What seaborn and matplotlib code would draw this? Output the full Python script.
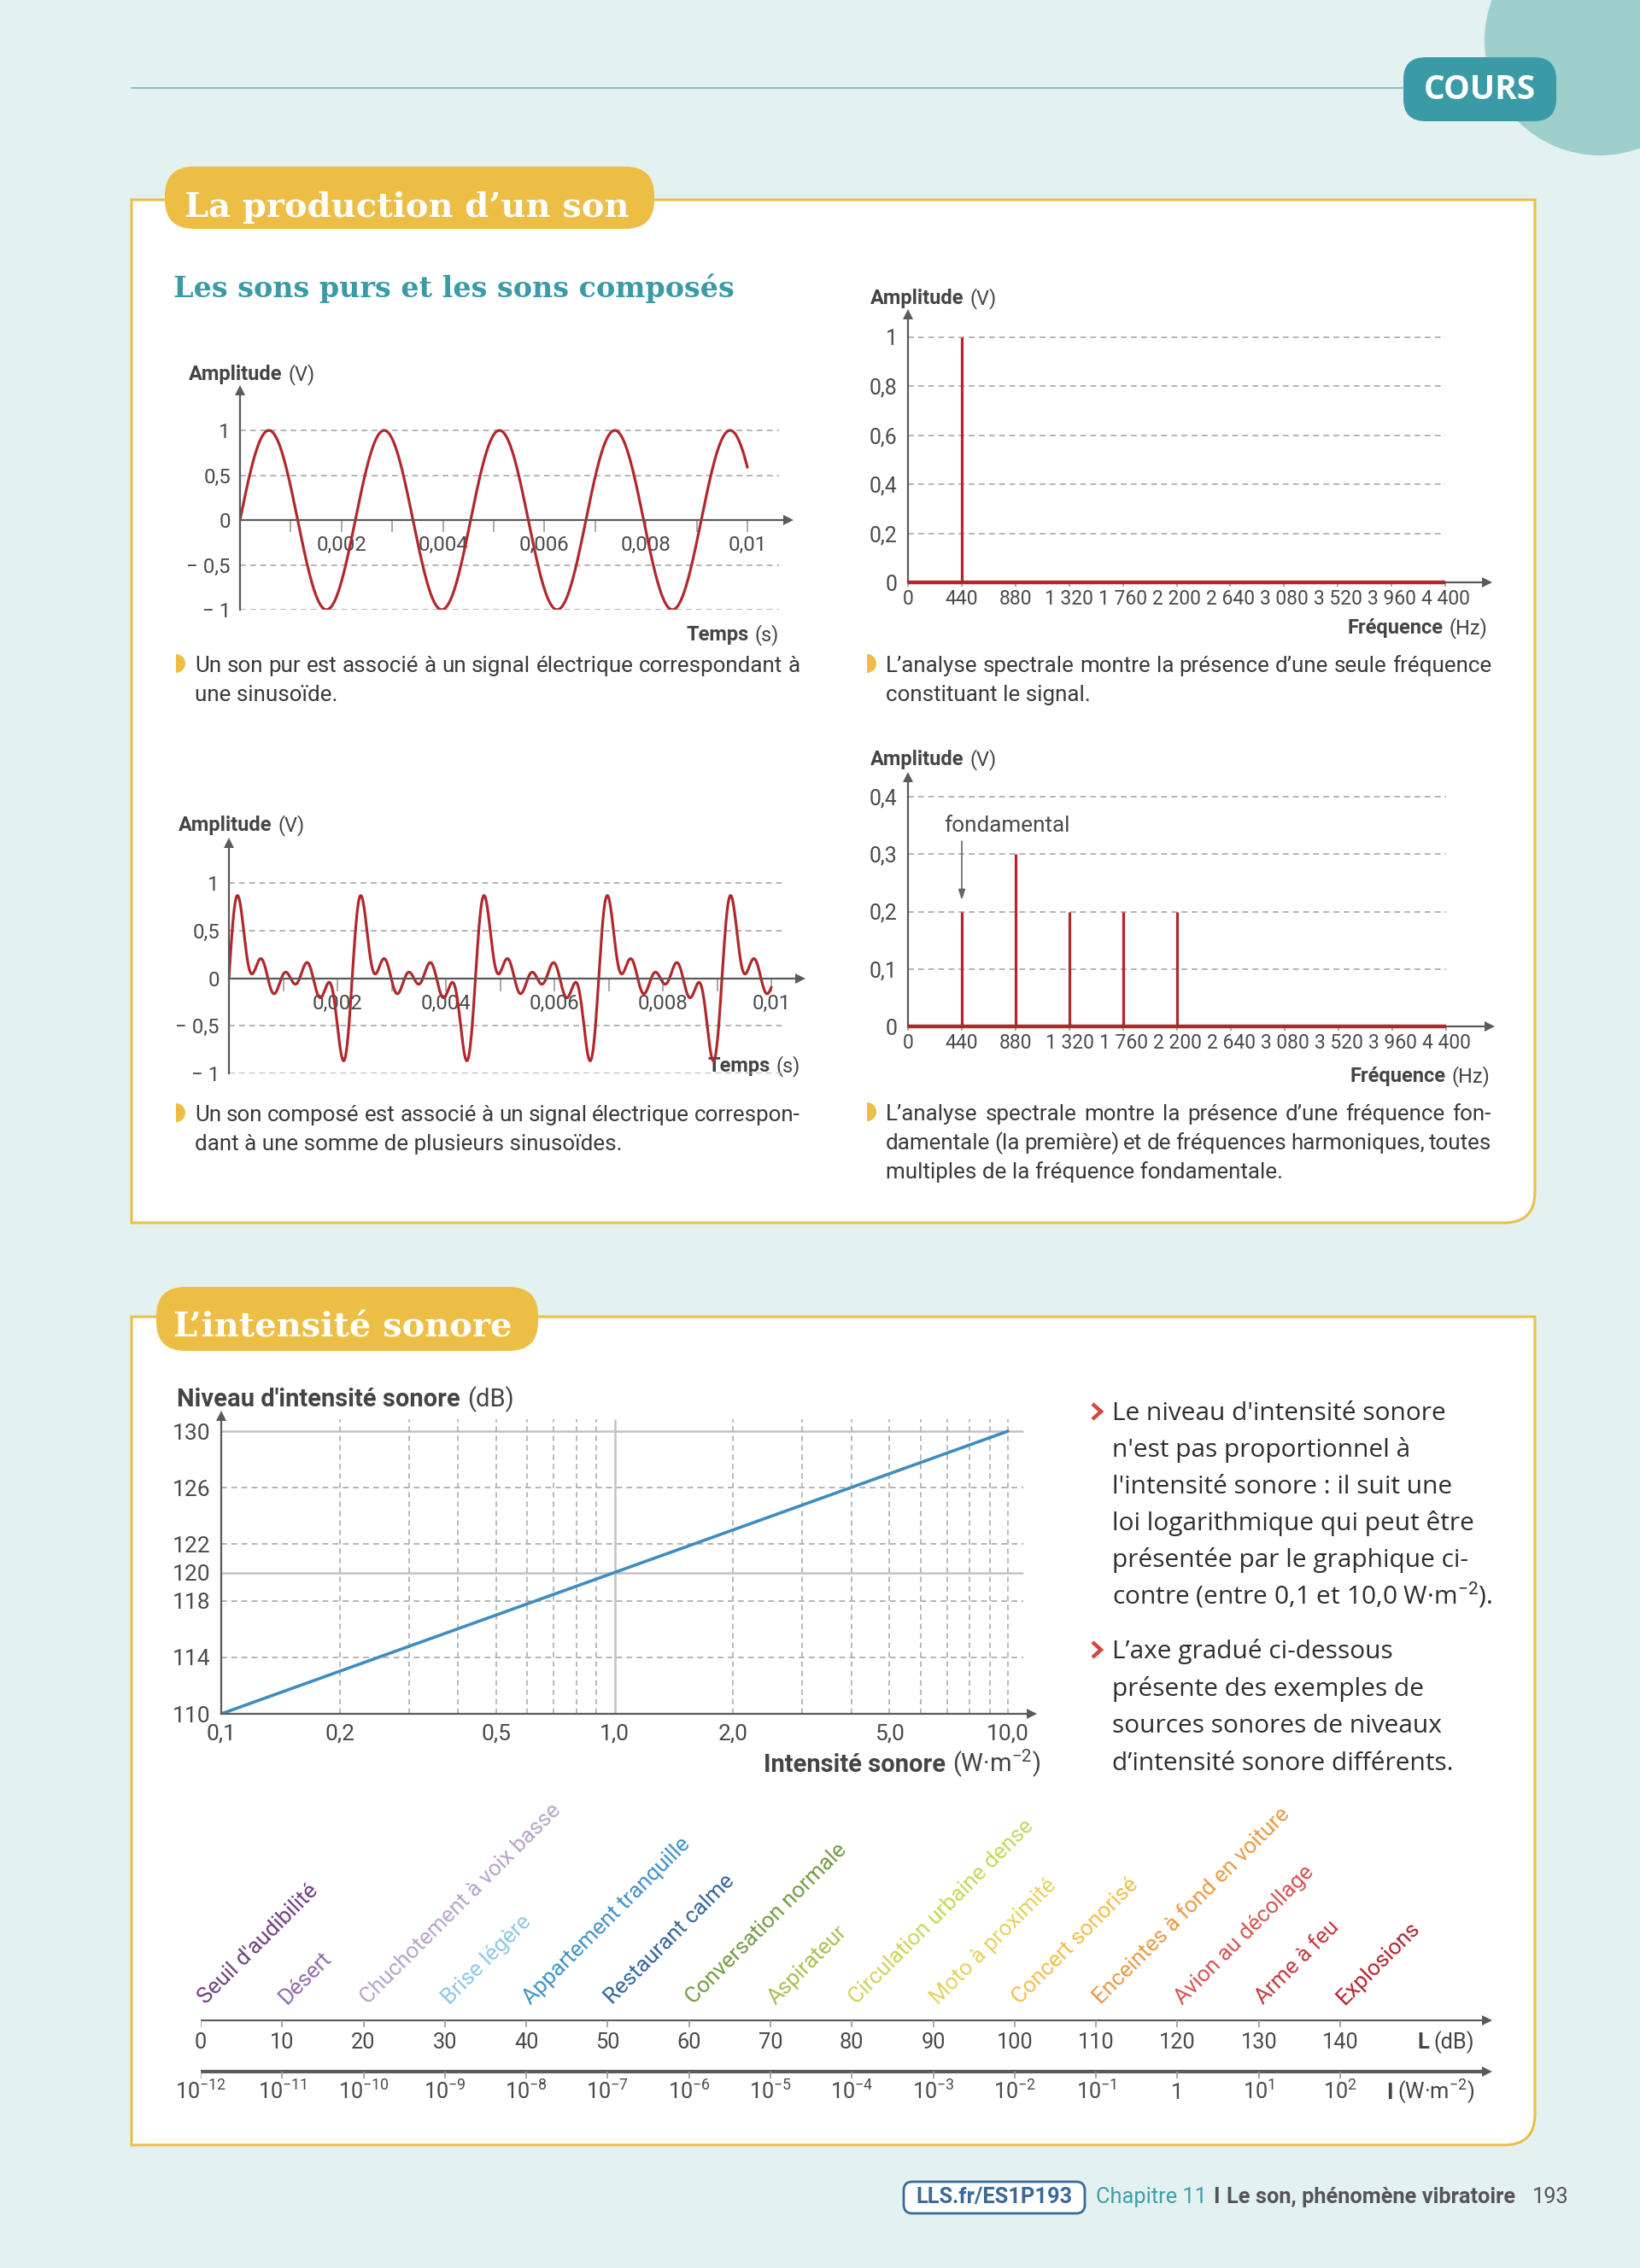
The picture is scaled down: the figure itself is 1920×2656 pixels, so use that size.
import numpy as np
import matplotlib
matplotlib.use('Agg')
import matplotlib.pyplot as plt
import seaborn as sns
from matplotlib import font_manager
from matplotlib.patches import FancyBboxPatch, Circle, Wedge, PathPatch
from matplotlib.path import Path
from matplotlib.ticker import NullLocator

sns.set_theme(style='white')

names = {f.name for f in font_manager.fontManager.ttflist}
SANS = 'Roboto' if 'Roboto' in names else 'DejaVu Sans'
HAS_NARROW = 'Liberation Sans Narrow' in names
NARROW = 'Liberation Sans Narrow' if HAS_NARROW else SANS
PARA = 'Open Sans' if 'Open Sans' in names else SANS
SERIF = 'DejaVu Serif Condensed' if 'DejaVu Serif Condensed' in names else 'DejaVu Serif'
FAM = [SANS, 'DejaVu Sans']
plt.rcParams['font.family'] = FAM
plt.rcParams['mathtext.fontset'] = 'custom'
plt.rcParams['mathtext.rm'] = SANS
plt.rcParams['mathtext.it'] = SANS + ':italic'
plt.rcParams['mathtext.bf'] = SANS + ':bold'

W, H = 1920, 2656

# ---------------- data ----------------
time_s = np.linspace(0, 0.01, 1600)
pure_freq = [440]
pure_amp = [1.0]
comp_freq = [440, 880, 1320, 1760, 2200]
comp_amp = [0.2, 0.3, 0.2, 0.2, 0.2]

wave_ticks = [0.002, 0.004, 0.006, 0.008, 0.01]
wave_labels = ['0,002', '0,004', '0,006', '0,008', '0,01']
wave_minor = [0.001, 0.003, 0.005, 0.007, 0.009]
amp_ticks = [1, 0.5, 0, -0.5, -1]
amp_labels = ['1', '0,5', '0', '\u2212 0,5', '\u2212 1']
amp_grid = [1, 0.5, -0.5, -1]

freq_ticks = [0, 440, 880, 1320, 1760, 2200, 2640, 3080, 3520, 3960, 4400]
freq_labels = ['0', '440', '880', '1 320', '1 760', '2 200',
               '2 640', '3 080', '3 520', '3 960', '4 400']
spec1_ticks = [0, 0.2, 0.4, 0.6, 0.8, 1]
spec1_labels = ['0', '0,2', '0,4', '0,6', '0,8', '1']
spec2_ticks = [0, 0.1, 0.2, 0.3, 0.4]
spec2_labels = ['0', '0,1', '0,2', '0,3', '0,4']

intensity = [0.1, 1.0, 10.0]
level_db = [110, 120, 130]
int_ticks = [0.1, 0.2, 0.5, 1.0, 2.0, 5.0, 10.0]
int_labels = ['0,1', '0,2', '0,5', '1,0', '2,0', '5,0', '10,0']
int_dashed = [0.2, 0.3, 0.4, 0.5, 0.6, 0.7, 0.8, 0.9, 2, 3, 4, 5, 6, 7, 8, 9, 10]
int_solid = [1.0]
level_ticks = [110, 114, 118, 120, 122, 126, 130]
level_solid = [120, 130]
level_dashed = [114, 118, 122, 126]

sources = ["Seuil d'audibilité", 'Désert', 'Chuchotement à voix basse', 'Brise légère',
           'Appartement tranquille', 'Restaurant calme', 'Conversation normale',
           'Aspirateur', 'Circulation urbaine dense', 'Moto à proximité',
           'Concert sonorisé', 'Enceintes à fond en voiture', 'Avion au décollage',
           'Arme à feu', 'Explosions']
source_db = [0, 10, 20, 30, 40, 50, 60, 70, 80, 90, 100, 110, 120, 130, 140]
source_colors = ['#6B3F7C', '#8F6BA3', '#B9A2CA', '#8EC7E2', '#3E90C5', '#2F6598',
                 '#6F9B3E', '#A9BF4B', '#C8D657', '#E3D35E', '#EFBF4B', '#E89A42',
                 '#D3524F', '#C2363D', '#B0212E']
scale_intensity = ['$10^{-12}$', '$10^{-11}$', '$10^{-10}$', '$10^{-9}$', '$10^{-8}$',
                   '$10^{-7}$', '$10^{-6}$', '$10^{-5}$', '$10^{-4}$', '$10^{-3}$',
                   '$10^{-2}$', '$10^{-1}$', '1', '$10^{1}$', '$10^{2}$']

pure_sig = sum(a * np.sin(2 * np.pi * f * time_s) for f, a in zip(pure_freq, pure_amp))
comp_sig = sum(a * np.sin(2 * np.pi * f * time_s) for f, a in zip(comp_freq, comp_amp))

# ---------------- colours ----------------
RED = '#B0282C'
AXIS = '#5a5a5a'
GRID = '#b4b4b4'
TXT = '#3a3a3a'
TICK = '#4a4a4a'
YEL = '#EDBE45'
TEAL = '#3A9BA6'
BG = '#E4F1F1'
BLUE = '#3D8DC0'
DASH = (0, (3.5, 2.6))

fig = plt.figure(figsize=(W / 100, H / 100), dpi=100)
fig.patch.set_facecolor(BG)
bg = fig.add_axes([0, 0, 1, 1])
bg.set_xlim(0, W)
bg.set_ylim(H, 0)
bg.axis('off')
renderer = fig.canvas.get_renderer()


def text_w(s, size, weight='normal', family=None):
    t = bg.text(0, 0, s, fontsize=size, fontweight=weight, family=family or FAM)
    w = t.get_window_extent(renderer).width
    t.remove()
    return w


def fit(s, target, weight='normal', family=None):
    return 10 * target / text_w(s, 10, weight, family)


def rich(x, y, parts, ha='left', gap=0.28):
    # parts: (text, size, weight, color)
    widths = [text_w(s, sz, wt) for s, sz, wt, c in parts]
    gaps = [gap * parts[i][1] * 100 / 72 for i in range(len(parts) - 1)] + [0]
    total = sum(widths) + sum(gaps)
    if ha == 'right':
        x = x - total
    for (s, sz, wt, c), w, g in zip(parts, widths, gaps):
        bg.text(x, y, s, fontsize=sz, fontweight=wt, color=c, va='baseline', ha='left')
        x += w + g


def justify(x, y, line, width, size, last=False, color=TXT):
    words = line.split(' ')
    if last or len(words) == 1:
        bg.text(x, y, line, fontsize=size, color=color, va='baseline')
        return
    ws = [text_w(w, size) for w in words]
    gap = (width - sum(ws)) / (len(words) - 1)
    for w, wd in zip(words, ws):
        bg.text(x, y, w, fontsize=size, color=color, va='baseline')
        x += wd + gap


def panel(L, T, R, B, r=36):
    verts = [(L, T), (R, T), (R, B - r), (R, B), (R - r, B), (L, B), (L, T)]
    codes = [Path.MOVETO, Path.LINETO, Path.LINETO, Path.CURVE3, Path.CURVE3,
             Path.LINETO, Path.CLOSEPOLY]
    bg.add_patch(PathPatch(Path(verts, codes), facecolor='white', edgecolor=YEL, lw=2.2))


def banner(L, T, R, B, fc, r=34):
    bg.add_patch(FancyBboxPatch((L, T), R - L, B - T,
                                boxstyle=f'round,pad=0,rounding_size={r}',
                                facecolor=fc, edgecolor='none'))


def chart(L, T, R, B, xlim, ylim, xlog=False):
    ax = fig.add_axes([L / W, 1 - B / H, (R - L) / W, (B - T) / H])
    ax.set_facecolor('none')
    if xlog:
        ax.set_xscale('log')
        ax.xaxis.set_minor_locator(NullLocator())
    ax.set_xlim(*xlim)
    ax.set_ylim(*ylim)
    ax.grid(False)
    for s in ['top', 'right']:
        ax.spines[s].set_visible(False)
    for s in ['left', 'bottom']:
        ax.spines[s].set_color(AXIS)
        ax.spines[s].set_linewidth(1.6)
    ax.plot([0], [1], marker='^', ms=8, color=AXIS, mew=0, transform=ax.transAxes, clip_on=False)
    return ax


def x_arrow(ax, yval):
    ax.plot([1], [yval], marker='>', ms=8, color=AXIS, mew=0,
            transform=ax.get_yaxis_transform(), clip_on=False)


def bullet(x, yc):
    bg.add_patch(Wedge((x, yc), 11, -90, 90, facecolor=YEL, edgecolor='none'))


# ---------------- page decoration ----------------
bg.add_patch(Circle((1873, 47), 135, facecolor='#9FCFCC', edgecolor='none'))
bg.plot([154, 1643], [103, 103], color='#86BDBF', lw=1.4)
banner(1643, 67, 1822, 142, TEAL, r=26)
bg.text(1732, 106, 'COURS', color='white', fontsize=fit('COURS', 130, 'bold', [PARA]),
        fontweight='bold', family=[PARA], ha='center', va='center')

panel(154, 234, 1797, 1432)
panel(154, 1542, 1797, 2512)

title_size = fit('La production d\u2019un son', 522, 'bold', [SERIF])
banner(193, 195, 766, 268, YEL)
bg.text(216, 254, 'La production d\u2019un son', color='white', fontsize=title_size,
        fontweight='bold', family=[SERIF], va='baseline')
banner(183, 1507, 630, 1582, YEL)
bg.text(203, 1566, 'L\u2019intensité sonore', color='white', fontsize=title_size,
        fontweight='bold', family=[SERIF], va='baseline')
bg.text(203, 348, 'Les sons purs et les sons composés', color=TEAL,
        fontsize=fit('Les sons purs et les sons composés', 660, 'bold', [SERIF]),
        fontweight='bold', family=[SERIF], va='baseline')

AX_SIZE = fit('Amplitude', 110, 'bold')
TICK_SIZE = 1.06 * fit('0,002', 55)
FREQ_FAM = [NARROW, 'DejaVu Sans']
FREQ_SIZE = 17.5 if HAS_NARROW else 16.5

# ---------------- chart 1 : pure sound ----------------
L, T, R, B = 281, 457, 923, 714
px_s, px_v, y1 = 59400, 105, 504
ax1 = chart(L, T, R, B, (0, (R - L) / px_s), (-1, 1 + (y1 - T) / px_v))
ax1.spines['bottom'].set_position(('data', 0))
x_arrow(ax1, 0)
ax1.hlines(amp_grid, 0, (912 - L) / px_s, colors=GRID, linestyles=DASH, lw=1.4)
sns.lineplot(x=time_s, y=pure_sig, ax=ax1, color=RED, linewidth=2.3, sort=False, errorbar=None)
ax1.set_xticks(wave_ticks, wave_labels)
ax1.set_xticks(wave_minor, minor=True)
ax1.tick_params(axis='x', which='both', bottom=True, direction='out', length=10, width=1.2,
                color='#9a9a9a', pad=3, labelsize=TICK_SIZE, labelcolor=TICK)
ax1.set_yticks(amp_ticks, amp_labels)
ax1.tick_params(axis='y', left=False, length=0, pad=8, labelsize=TICK_SIZE, labelcolor=TICK)
rich(221, 445, [('Amplitude', AX_SIZE, 'bold', '#444'), ('(V)', AX_SIZE, 'normal', '#444')])
rich(912, 750, [('Temps', AX_SIZE, 'bold', '#444'), ('(s)', AX_SIZE, 'normal', '#444')], ha='right')

# ---------------- chart 2 : composite sound ----------------
L, T, R, B = 268, 987, 937, 1257
px_s, px_v, y1 = 63500, 111.5, 1034
ax2 = chart(L, T, R, B, (0, (R - L) / px_s), (-1, 1 + (y1 - T) / px_v))
ax2.spines['bottom'].set_position(('data', 0))
x_arrow(ax2, 0)
ax2.hlines(amp_grid, 0, (918 - L) / px_s, colors=GRID, linestyles=DASH, lw=1.4)
sns.lineplot(x=time_s, y=comp_sig, ax=ax2, color=RED, linewidth=2.3, sort=False, errorbar=None)
ax2.set_xticks(wave_ticks, wave_labels)
ax2.set_xticks(wave_minor, minor=True)
ax2.tick_params(axis='x', which='both', bottom=True, direction='out', length=11, width=1.2,
                color='#9a9a9a', pad=2.5, labelsize=TICK_SIZE, labelcolor=TICK)
ax2.set_yticks(amp_ticks, amp_labels)
ax2.tick_params(axis='y', left=False, length=0, pad=8, labelsize=TICK_SIZE, labelcolor=TICK)
rich(209, 973, [('Amplitude', AX_SIZE, 'bold', '#444'), ('(V)', AX_SIZE, 'normal', '#444')])
rich(937, 1255, [('Temps', AX_SIZE, 'bold', '#444'), ('(s)', AX_SIZE, 'normal', '#444')], ha='right')

# ---------------- chart 3 : spectrum of pure sound ----------------
L, T, R, B = 1063, 368, 1741, 682
px_f, px_v = 0.142955, 287
ax3 = chart(L, T, R, B, (0, (R - L) / px_f), (0, (B - T) / px_v))
x_arrow(ax3, 0)
ax3.hlines(spec1_ticks[1:], 0, 4400, colors=GRID, linestyles=DASH, lw=1.4)
ax3.vlines(pure_freq, 0, pure_amp, colors=RED, lw=2.3)
ax3.hlines(0, 0, 4400, colors=RED, lw=3.2, clip_on=False, zorder=5)
ax3.set_xticks(freq_ticks, freq_labels)
ax3.tick_params(axis='x', bottom=True, direction='out', length=3.6, width=1.2, color='#9a9a9a',
                pad=2.5, labelsize=FREQ_SIZE, labelcolor=TICK)
ax3.set_yticks(spec1_ticks, spec1_labels)
ax3.tick_params(axis='y', left=False, length=0, pad=9, labelsize=TICK_SIZE * 1.04, labelcolor=TICK)
rich(1019, 356, [('Amplitude', AX_SIZE, 'bold', '#444'), ('(V)', AX_SIZE, 'normal', '#444')])
rich(1741, 742, [('Fréquence', AX_SIZE, 'bold', '#444'), ('(Hz)', AX_SIZE, 'normal', '#444')], ha='right')

# ---------------- chart 4 : spectrum of composite sound ----------------
L, T, R, B = 1063, 910, 1744, 1202
px_f, px_v = 0.1432, 672.5
ax4 = chart(L, T, R, B, (0, (R - L) / px_f), (0, (B - T) / px_v))
x_arrow(ax4, 0)
ax4.hlines(spec2_ticks[1:], 0, 4400, colors=GRID, linestyles=DASH, lw=1.4)
ax4.vlines(comp_freq, 0, comp_amp, colors=RED, lw=2.3)
ax4.hlines(0, 0, 4400, colors=RED, lw=3.2, clip_on=False, zorder=5)
ax4.set_xticks(freq_ticks, freq_labels)
ax4.tick_params(axis='x', bottom=True, direction='out', length=3.6, width=1.2, color='#9a9a9a',
                pad=2.5, labelsize=FREQ_SIZE, labelcolor=TICK)
ax4.set_yticks(spec2_ticks, spec2_labels)
ax4.tick_params(axis='y', left=False, length=0, pad=9, labelsize=TICK_SIZE * 1.04, labelcolor=TICK)
ax4.annotate('', xy=(comp_freq[0], comp_amp[0] + 0.02), xytext=(comp_freq[0], (B - 985) / px_v),
             arrowprops=dict(arrowstyle='-|>,head_length=0.6,head_width=0.2', color='#666',
                             lw=1.2, shrinkA=0, shrinkB=0))
ax4.text((1105 - L) / px_f, (B - 967) / px_v, 'fondamental', ha='left', va='center',
         fontsize=fit('fondamental', 148), color=TICK)
rich(1019, 896, [('Amplitude', AX_SIZE, 'bold', '#444'), ('(V)', AX_SIZE, 'normal', '#444')])
rich(1744, 1267, [('Fréquence', AX_SIZE, 'bold', '#444'), ('(Hz)', AX_SIZE, 'normal', '#444')], ha='right')

for ax in (ax3, ax4):
    for lab in ax.get_xticklabels():
        lab.set_family(FREQ_FAM)

# ---------------- captions ----------------
CAP = fit('Un son pur est associé à un signal électrique correspondant à', 711)
captions = [
    (228, [787, 821], ['Un son pur est associé à un signal électrique correspondant à',
                       'une sinusoïde.']),
    (228, [1313, 1347], ['Un son composé est associé à un signal électrique correspon-',
                         'dant à une somme de plusieurs sinusoïdes.']),
    (1037, [787, 821], ['L\u2019analyse spectrale montre la présence d\u2019une seule fréquence',
                        'constituant le signal.']),
    (1037, [1312, 1346, 1380], ['L\u2019analyse spectrale montre la présence d\u2019une fréquence fon-',
                                'damentale (la première) et de fréquences harmoniques, toutes',
                                'multiples de la fréquence fondamentale.']),
]
for x0, ys, lines in captions:
    bullet(x0 - 22, ys[0] - 10)
    for i, (yy, ln) in enumerate(zip(ys, lines)):
        justify(x0, yy, ln, 709, CAP, last=(i == len(lines) - 1))

# ---------------- chart 5 : level vs intensity ----------------
L, T, R, B = 259, 1658, 1208, 2007
px_dec, px_db = 460.5, 16.55
ax5 = chart(L, T, R, B, (0.1, 10 ** (-1 + (R - L) / px_dec)), (110, 110 + (B - T) / px_db), xlog=True)
x_arrow(ax5, 110)
x_grid_end = 10 ** (-1 + (1198 - L) / px_dec)
y_grid_top = 110 + (B - 1662) / px_db
ax5.hlines(level_dashed, 0.1, x_grid_end, colors=GRID, linestyles=DASH, lw=1.4)
ax5.hlines(level_solid, 0.1, x_grid_end, colors='#c2c2c2', lw=1.8)
ax5.vlines(int_dashed, 110, y_grid_top, colors=GRID, linestyles=DASH, lw=1.3)
ax5.vlines(int_solid, 110, y_grid_top, colors='#c2c2c2', lw=1.8)
sns.lineplot(x=intensity, y=level_db, ax=ax5, color=BLUE, linewidth=2.6, errorbar=None)
ax5.set_xticks(int_ticks, int_labels)
ax5.tick_params(axis='x', bottom=True, length=0, pad=8, labelsize=1.1 * TICK_SIZE, labelcolor=TICK)
ax5.set_yticks(level_ticks, [str(v) for v in level_ticks])
ax5.tick_params(axis='y', left=False, length=0, pad=9, labelsize=1.1 * TICK_SIZE, labelcolor=TICK)
N_SIZE = fit("Niveau d'intensité sonore", 331, 'bold')
rich(207, 1647, [("Niveau d'intensité sonore", N_SIZE, 'bold', '#444'), ('(dB)', N_SIZE, 'normal', '#444')])
rich(1218, 2075, [('Intensité sonore', N_SIZE, 'bold', '#444'),
                  ('(W\u00b7m$^{-2}$)', N_SIZE, 'normal', '#444')], ha='right')

# ---------------- right paragraph ----------------
para = ["Le niveau d'intensité sonore", "n'est pas proportionnel à",
        "l'intensité sonore : il suit une", 'loi logarithmique qui peut être',
        'présentée par le graphique ci-', 'contre (entre 0,1 et 10,0 W\u00b7m$^{-2}$).',
        'L\u2019axe gradué ci-dessous', 'présente des exemples de',
        'sources sonores de niveaux', 'd\u2019intensité sonore différents.']
para_y = [1663, 1706, 1749, 1792, 1835, 1878, 1942, 1986, 2029, 2073]
P_SIZE = fit('loi logarithmique qui peut être', 425, family=[PARA])
for ln, yy in zip(para, para_y):
    bg.text(1302, yy, ln, fontsize=P_SIZE, family=[PARA, 'DejaVu Sans'], color='#2e2e2e', va='baseline')
for yy in [para_y[0], para_y[6]]:
    bg.plot([1279, 1289, 1279], [yy - 19, yy - 10, yy - 1], color='#D9453C', lw=3.2,
            solid_joinstyle='miter', solid_capstyle='butt')

# ---------------- graduated scale ----------------
L, T, R, B = 235, 2150, 1745, 2480
px_db = 9.529
ax6 = fig.add_axes([L / W, 1 - B / H, (R - L) / W, (B - T) / H])
ax6.set_facecolor('none')
ax6.axis('off')
xmax = (R - 4 - L) / px_db
ax6.set_xlim(0, (R - L) / px_db)
ax6.set_ylim(B, T)
ax6.hlines(2366, 0, xmax, colors=AXIS, lw=1.5)
ax6.hlines(2426, 0, xmax, colors=AXIS, lw=3)
ax6.plot([xmax, xmax], [2366, 2426], ls='none', marker='>', ms=8, color=AXIS, mew=0, clip_on=False)
ax6.vlines(source_db, 2366, 2374, colors='#999', lw=1.2)
ax6.vlines(source_db, 2426, 2434, colors='#999', lw=1.2)
S_NUM = 1.15 * fit('100', 37)
S_LAB = fit('Chuchotement à voix basse', 322)
for db, lab, name, col in zip(source_db, scale_intensity, sources, source_colors):
    ax6.text(db, 2399, str(db), ha='center', va='baseline', fontsize=S_NUM, color=TICK)
    ax6.text(db, 2458, lab, ha='center', va='baseline', fontsize=S_NUM, color=TICK)
    ax6.text(db + 0.6, 2348, name, rotation=45, rotation_mode='anchor', ha='left',
             va='baseline', fontsize=S_LAB, color=col)
rich(1726, 2399, [('L', S_NUM, 'bold', '#444'), ('(dB)', S_NUM, 'normal', '#444')], ha='right', gap=0.2)
rich(1726, 2458, [('I', S_NUM, 'bold', '#444'), ('(W\u00b7m$^{-2}$)', S_NUM, 'normal', '#444')],
     ha='right', gap=0.2)

# ---------------- footer ----------------
bg.add_patch(FancyBboxPatch((1058, 2555), 212, 37, boxstyle='round,pad=0,rounding_size=10',
                            facecolor='white', edgecolor='#3B6A9A', lw=2))
F_SIZE = fit('Le son, phénomène vibratoire', 339, 'bold')
bg.text(1164, 2580, 'LLS.fr/ES1P193', ha='center', va='baseline', fontsize=F_SIZE,
        fontweight='bold', color='#3B6A9A')
rich(1283, 2580, [('Chapitre 11', F_SIZE, 'normal', '#3F9EA6'), ('I', F_SIZE, 'bold', '#555'),
                  ('Le son, phénomène vibratoire', F_SIZE, 'bold', '#555')], gap=0.3)
bg.text(1794, 2580, '193', ha='left', va='baseline', fontsize=F_SIZE, color='#555')

fig.savefig('out.png', dpi=100, facecolor=BG)
